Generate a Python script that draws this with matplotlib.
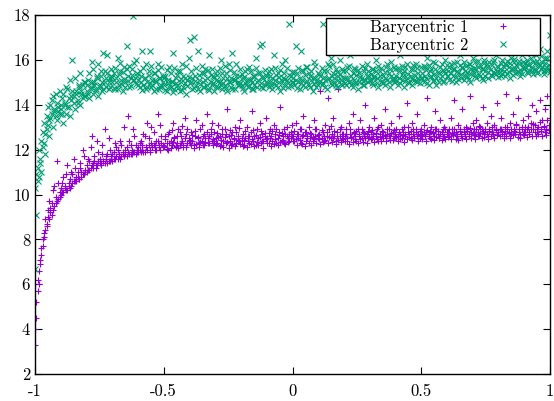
import numpy as np
import matplotlib
matplotlib.use("Agg")
import matplotlib.pyplot as plt
from matplotlib.patches import Rectangle

# ---- data ----
# two sample passes per series on the same x grid
bary1_a = [
    3.3, 4.5, 5.7, 6.0, 6.9, 7.3, 7.7, 8.1, 8.4, 8.7, 9.3, 8.9, 9.2, 9.6, 9.3, 10.4, 9.6, 11.5, 9.8, 10.1,
    10.0, 10.5, 10.1, 10.3, 10.9, 10.2, 10.4, 10.3, 11.0, 10.5, 10.6, 11.2, 10.6, 10.8, 10.7, 11.4, 10.8, 12.0, 10.9, 11.1,
    11.0, 11.6, 11.1, 11.2, 12.6, 11.2, 11.5, 11.3, 11.3, 11.9, 11.4, 11.3, 12.2, 11.5, 11.4, 11.7, 11.4, 12.5, 11.5, 11.6,
    11.5, 11.9, 11.6, 12.1, 11.6, 11.7, 12.4, 11.7, 11.8, 11.7, 12.0, 11.7, 13.5, 11.8, 12.2, 11.8, 11.9, 12.6, 11.8, 12.0,
    11.9, 12.3, 11.9, 12.0, 12.7, 11.9, 12.1, 12.0, 12.5, 11.9, 13.0, 12.1, 12.2, 12.0, 12.4, 13.6, 12.1, 12.0, 12.6, 12.2,
    12.1, 12.6, 12.3, 12.0, 12.8, 12.4, 12.2, 13.2, 12.5, 12.1, 12.3, 12.9, 12.2, 12.6, 12.4, 12.1, 13.4, 12.7, 12.3, 12.5,
    12.3, 12.8, 12.4, 12.2, 12.6, 13.3, 12.5, 12.3, 12.9, 12.4, 12.2, 12.7, 12.5, 13.6, 12.3, 12.6, 12.9, 12.4, 12.2, 12.8,
    12.5, 12.3, 13.1, 12.6, 12.2, 12.7, 12.4, 12.9, 12.3, 13.8, 12.6, 12.4, 12.2, 12.8, 12.5, 13.0, 12.3, 12.6, 12.4, 13.3,
    12.4, 12.7, 12.2, 12.5, 13.0, 12.6, 12.3, 12.8, 13.7, 12.4, 12.6, 12.2, 12.9, 12.5, 13.2, 12.3, 12.7, 12.4, 12.6, 13.4,
    12.5, 12.3, 12.9, 12.6, 12.4, 13.1, 12.7, 12.3, 12.5, 12.8, 13.9, 12.4, 12.6, 12.3, 12.7, 13.0, 12.5, 12.4, 12.8, 12.6,
    12.6, 12.4, 13.2, 12.7, 12.5, 12.9, 12.3, 12.6, 13.5, 12.8, 12.4, 12.6, 13.0, 12.5, 12.7, 12.4, 13.3, 12.6, 12.9, 12.5,
    12.7, 14.6, 12.5, 12.8, 12.4, 13.1, 12.6, 14.3, 12.9, 12.5, 12.7, 13.4, 12.6, 12.4, 12.8, 14.7, 12.6, 13.0, 12.5, 12.7,
    12.6, 12.9, 12.4, 13.2, 12.7, 12.5, 13.6, 12.8, 12.6, 12.4, 12.9, 12.7, 13.3, 12.5, 12.8, 12.6, 14.0, 12.7, 12.5, 13.0,
    12.8, 12.5, 12.7, 13.4, 12.6, 12.9, 12.4, 12.7, 13.1, 12.6, 12.8, 13.8, 12.5, 12.7, 12.9, 12.6, 13.2, 12.8, 12.5, 12.7,
    12.9, 12.6, 13.5, 12.7, 12.5, 12.8, 13.0, 12.6, 14.1, 12.8, 12.7, 12.5, 13.2, 12.9, 12.6, 12.8, 13.6, 12.7, 12.5, 12.9,
    12.7, 13.1, 12.6, 12.8, 14.3, 12.7, 12.5, 13.0, 12.8, 12.6, 13.7, 12.9, 12.7, 12.5, 13.3, 12.8, 12.6, 13.0, 12.9, 12.7,
    12.8, 12.6, 13.4, 12.9, 12.7, 14.2, 12.8, 12.6, 13.1, 12.9, 12.7, 13.8, 12.8, 12.6, 13.0, 12.9, 12.7, 14.4, 12.8, 13.2,
    12.9, 12.7, 13.3, 12.8, 12.6, 13.0, 12.9, 13.9, 12.7, 12.8, 13.2, 12.6, 12.9, 13.5, 12.8, 12.7, 13.1, 12.9, 14.1, 12.8,
    12.9, 13.4, 12.8, 12.7, 13.0, 14.5, 12.9, 12.8, 13.2, 12.7, 13.6, 12.9, 12.8, 13.1, 14.3, 12.9, 12.7, 13.0, 13.3, 12.8,
    13.0, 12.9, 13.5, 12.8, 13.2, 14.0, 12.9, 13.1, 13.7, 12.8, 13.0, 14.2, 12.9, 13.3, 13.0, 13.8, 12.9, 14.4, 13.1, 13.4,
]
bary1_b = [
    4.0, 5.2, 6.2, 6.6, 7.1, 7.6, 8.0, 8.3, 8.9, 8.6, 9.0, 9.7, 9.4, 9.1, 10.2, 9.5, 9.9, 9.7, 10.5, 9.9,
    10.3, 10.1, 10.8, 10.4, 10.2, 11.3, 10.5, 10.7, 10.4, 10.9, 11.6, 10.6, 10.8, 11.0, 10.7, 11.2, 11.0, 10.9, 11.7, 11.0,
    11.3, 11.1, 11.5, 12.1, 11.3, 11.4, 11.7, 11.2, 12.4, 11.5, 11.6, 11.4, 11.8, 11.5, 12.9, 11.6, 11.8, 11.5, 12.0, 11.7,
    11.8, 11.6, 12.3, 11.7, 12.0, 11.8, 11.6, 12.2, 11.9, 13.0, 11.8, 12.1, 11.9, 12.4, 11.8, 12.0, 12.9, 11.9, 12.2, 11.9,
    12.1, 12.0, 12.4, 12.2, 11.9, 12.6, 12.1, 13.2, 12.2, 12.0, 12.3, 12.1, 12.8, 12.2, 12.0, 12.4, 12.2, 13.1, 12.3, 12.1,
    12.14, 12.47, 12.03, 12.71, 12.28, 12.09, 12.88, 12.35, 12.56, 12.17, 12.62, 12.06, 12.79, 12.31, 13.05, 12.22, 12.51, 12.12, 12.93, 12.38,
    12.42, 12.19, 12.66, 12.08, 12.84, 12.25, 12.57, 12.13, 12.36, 13.08, 12.61, 12.21, 12.33, 12.77, 12.52, 12.29, 12.68, 13.17, 12.46, 12.39,
    12.27, 12.74, 12.55, 12.16, 12.43, 12.91, 12.12, 12.58, 12.69, 12.34, 12.07, 12.86, 12.63, 12.24, 12.49, 12.15, 12.78, 12.41, 12.97, 12.26,
    12.54, 12.18, 12.44, 12.81, 12.11, 12.37, 12.59, 12.23, 12.48, 12.89, 12.14, 12.67, 12.32, 12.19, 12.58, 12.83, 12.38, 12.09, 12.72, 12.46,
    12.28, 12.73, 12.51, 12.17, 12.84, 12.26, 12.47, 12.92, 12.21, 12.64, 12.33, 12.76, 12.45, 12.94, 12.24, 12.61, 12.36, 12.71, 12.53, 13.08,
    12.37, 12.82, 12.49, 12.19, 12.68, 12.44, 12.91, 12.27, 12.63, 12.18, 12.79, 12.52, 12.31, 12.74, 12.22, 12.57, 12.46, 12.93, 12.29, 12.66,
    12.48, 12.26, 12.87, 12.34, 12.62, 12.43, 12.78, 12.29, 12.57, 13.04, 12.36, 12.51, 12.83, 12.24, 12.59, 12.45, 12.92, 12.32, 12.71, 12.47,
    12.38, 12.69, 12.52, 12.27, 12.91, 12.58, 12.33, 12.74, 12.46, 12.83, 12.29, 12.61, 12.49, 12.94, 12.36, 12.72, 12.54, 12.31, 12.81, 12.57,
    12.46, 12.88, 12.61, 12.34, 12.73, 12.48, 13.02, 12.57, 12.39, 12.82, 12.51, 12.64, 12.37, 12.93, 12.59, 12.44, 12.76, 12.41, 12.89, 12.62,
    12.56, 12.38, 12.79, 12.47, 12.92, 12.63, 12.36, 12.71, 12.49, 13.03, 12.58, 12.84, 12.42, 12.68, 12.53, 12.91, 12.61, 12.39, 12.82, 12.64,
    12.48, 12.77, 12.59, 12.37, 12.89, 12.62, 12.81, 12.46, 12.73, 12.41, 12.94, 12.57, 12.83, 12.52, 12.69, 12.43, 12.92, 12.61, 12.47, 12.79,
    12.58, 12.91, 12.49, 12.72, 12.63, 12.94, 12.47, 12.68, 12.42, 12.84, 12.61, 12.53, 12.93, 12.71, 12.48, 12.82, 12.59, 12.96, 12.51, 12.74,
    12.67, 12.48, 12.92, 12.61, 13.04, 12.73, 12.52, 12.83, 12.57, 12.94, 12.69, 12.49, 12.81, 12.62, 13.01, 12.71, 12.54, 12.89, 12.63, 12.78,
    12.61, 12.93, 12.68, 12.51, 12.84, 12.59, 13.03, 12.72, 12.53, 12.91, 12.64, 12.82, 12.69, 13.12, 12.58, 12.79, 12.52, 12.94, 12.71, 12.63,
    12.79, 12.58, 13.02, 12.69, 12.91, 12.62, 13.13, 12.77, 12.59, 12.93, 12.71, 13.21, 12.82, 12.61, 13.04, 12.78, 12.67, 13.32, 12.88, 12.76,
]

bary2_a = [
    6.7, 9.1, 10.6, 10.8, 11.4, 11.0, 12.1, 12.3, 11.8, 12.9, 13.1, 12.6, 13.4, 14.2, 13.0, 13.7, 14.5, 13.3, 13.9, 13.6,
    13.8, 14.3, 13.2, 14.0, 13.6, 14.7, 13.9, 13.5, 14.4, 16.0, 14.1, 13.8, 14.6, 14.2, 14.9, 14.0, 14.5, 14.3, 15.0, 14.4,
    14.6, 15.1, 14.3, 14.8, 15.9, 14.5, 15.0, 14.7, 15.3, 14.4, 14.9, 15.5, 14.6, 16.3, 15.0, 14.8, 15.4, 14.7, 15.2, 15.6,
    15.0, 15.4, 14.7, 15.2, 16.1, 14.9, 15.5, 15.1, 14.6, 15.7, 15.0, 16.6, 15.3, 14.8, 15.2, 15.6, 17.95, 15.1, 16.0, 15.4,
    15.1, 14.8, 15.3, 16.4, 14.9, 15.2, 14.7, 15.0, 15.5, 16.4, 14.8, 15.1, 14.6, 15.4, 15.0, 15.8, 14.7, 15.2, 14.9, 15.3,
    14.9, 15.3, 14.6, 15.1, 15.7, 14.8, 15.0, 16.3, 14.7, 15.2, 14.9, 15.5, 14.6, 15.0, 15.8, 14.8, 15.2, 14.5, 15.1, 16.1,
    16.9, 15.0, 14.7, 17.0, 15.3, 14.9, 16.4, 15.1, 14.6, 15.4, 15.0, 14.8, 15.6, 15.2, 14.7, 16.2, 15.0, 14.9, 15.3, 14.6,
    15.1, 15.5, 14.8, 15.0, 16.0, 14.7, 15.2, 14.9, 15.4, 14.6, 15.8, 15.0, 14.8, 16.3, 15.1, 14.7, 15.3, 15.0, 14.9, 15.6,
    14.9, 15.2, 14.6, 15.5, 15.0, 14.8, 15.7, 15.1, 14.7, 15.3, 14.9, 16.1, 15.0, 15.4, 16.6, 14.8, 16.7, 15.2, 14.9, 15.0,
    15.3, 14.8, 15.0, 15.6, 14.7, 16.2, 15.1, 14.9, 15.4, 15.0, 14.6, 15.8, 15.2, 14.9, 16.0, 15.1, 14.8, 17.6, 15.3, 15.0,
    15.2, 14.9, 16.6, 15.4, 15.0, 14.7, 16.4, 15.1, 15.5, 14.8, 15.0, 15.7, 14.9, 15.3, 15.1, 14.6, 15.9, 15.2, 14.8, 15.4,
    15.0, 15.3, 14.9, 17.6, 15.5, 15.1, 14.7, 15.8, 15.2, 16.1, 14.9, 15.4, 15.0, 15.6, 14.8, 15.3, 16.0, 15.1, 14.9, 15.5,
    15.2, 14.9, 15.7, 15.0, 16.2, 15.3, 14.8, 15.1, 15.6, 15.0, 14.7, 15.4, 16.4, 15.2, 14.9, 15.5, 15.1, 15.8, 15.0, 15.3,
    15.1, 15.6, 14.9, 15.3, 16.0, 15.2, 14.8, 15.5, 15.0, 16.5, 15.3, 14.9, 15.7, 15.1, 15.4, 14.8, 15.9, 15.2, 15.0, 15.6,
    15.3, 14.9, 15.5, 16.2, 15.1, 15.4, 14.8, 15.7, 15.2, 15.0, 16.4, 15.3, 14.9, 15.6, 15.1, 15.8, 15.0, 15.4, 16.6, 15.2,
    15.4, 15.0, 15.7, 15.2, 16.1, 14.9, 15.5, 15.3, 15.9, 15.1, 15.6, 14.9, 16.3, 15.4, 15.2, 15.8, 15.0, 15.5, 16.0, 15.3,
    15.5, 15.1, 15.8, 16.4, 15.3, 15.6, 15.0, 15.9, 15.4, 16.2, 15.2, 15.7, 15.1, 15.5, 16.6, 15.3, 15.8, 15.0, 15.6, 16.1,
    15.4, 15.9, 15.2, 15.7, 16.3, 15.3, 15.6, 15.1, 16.0, 15.5, 15.8, 15.2, 16.5, 15.6, 15.3, 15.9, 15.4, 16.2, 15.5, 15.7,
    15.6, 15.3, 16.0, 15.5, 15.8, 16.4, 15.4, 15.7, 15.2, 16.1, 15.6, 15.9, 15.4, 16.6, 15.5, 15.8, 15.3, 16.2, 15.7, 15.6,
    15.7, 16.0, 15.4, 15.8, 16.3, 15.5, 15.9, 15.6, 16.2, 15.4, 15.8, 16.5, 15.6, 15.9, 15.5, 16.1, 15.7, 16.4, 15.6, 17.1,
]
bary2_b = [
    10.3, 10.9, 11.2, 12.0, 11.6, 12.4, 12.8, 13.2, 12.7, 13.5, 13.9, 13.3, 14.0, 13.6, 14.4, 13.8, 13.5, 14.1, 13.7, 14.6,
    14.0, 13.6, 14.5, 14.1, 14.8, 13.9, 14.3, 15.1, 14.2, 14.6, 14.4, 15.2, 14.5, 14.1, 14.8, 15.4, 14.6, 14.9, 14.4, 15.0,
    14.9, 14.5, 15.4, 14.7, 15.0, 15.6, 14.9, 14.6, 15.2, 15.8, 14.8, 15.3, 15.0, 14.7, 15.5, 15.2, 16.2, 15.0, 14.8, 15.3,
    15.23, 14.76, 15.64, 15.02, 14.68, 15.37, 15.84, 14.91, 15.46, 15.13, 14.79, 15.58, 15.04, 15.73, 14.83, 15.31, 15.09, 15.86, 14.94, 15.26,
    14.87, 15.52, 15.01, 14.66, 15.63, 15.18, 15.82, 14.77, 15.34, 14.98, 15.71, 14.89, 15.43, 15.12, 14.69, 15.54, 15.21, 14.81, 15.67, 15.03,
    15.19, 14.64, 15.53, 14.97, 14.78, 15.42, 15.08, 14.59, 15.62, 14.96, 15.33, 14.76, 15.51, 15.14, 14.67, 15.29, 14.99, 15.74, 14.82, 15.22,
    14.97, 15.52, 15.18, 14.73, 15.04, 15.64, 14.68, 15.31, 14.94, 15.72, 14.79, 15.43, 15.09, 14.86, 15.56, 14.66, 15.34, 15.61, 14.98, 15.24,
    14.77, 15.32, 15.07, 15.63, 14.89, 15.41, 14.96, 15.74, 14.74, 15.21, 15.03, 15.53, 15.17, 14.69, 15.44, 15.12, 15.82, 14.87, 15.28, 14.99,
    15.38, 14.76, 15.23, 14.97, 15.61, 15.16, 14.84, 15.52, 15.02, 14.68, 15.29, 15.64, 14.79, 15.11, 15.42, 14.96, 15.24, 14.73, 15.54, 15.31,
    14.98, 15.51, 15.27, 14.86, 15.19, 14.94, 15.63, 15.32, 14.77, 15.22, 15.53, 15.07, 14.74, 15.41, 15.13, 15.66, 14.96, 15.34, 14.82, 15.48,
    15.03, 15.44, 15.12, 14.76, 15.62, 15.21, 14.97, 15.53, 14.87, 15.33, 15.67, 15.08, 15.41, 14.79, 15.52, 15.17, 14.93, 15.72, 15.06, 14.88,
    15.37, 15.06, 15.63, 14.96, 15.23, 14.78, 15.51, 15.14, 15.74, 14.97, 15.28, 15.81, 15.18, 14.86, 15.47, 15.09, 15.39, 14.94, 15.61, 15.19,
    14.98, 15.52, 15.17, 15.71, 15.06, 14.87, 15.43, 15.62, 14.96, 15.31, 15.54, 15.01, 15.22, 15.73, 15.08, 14.89, 15.64, 15.27, 15.49, 15.12,
    15.38, 14.97, 15.61, 15.18, 15.52, 14.99, 15.72, 15.29, 15.63, 15.07, 14.96, 15.47, 15.21, 15.83, 15.02, 15.58, 15.26, 15.11, 15.69, 15.16,
    15.08, 15.62, 15.19, 14.98, 15.73, 15.28, 15.51, 15.06, 15.82, 15.37, 14.97, 15.59, 15.16, 15.78, 15.31, 15.04, 15.64, 15.21, 14.99, 15.68,
    15.17, 15.71, 15.26, 15.53, 14.98, 15.79, 15.22, 15.61, 15.07, 15.38, 15.88, 15.19, 15.48, 15.01, 15.69, 15.29, 15.57, 15.08, 15.42, 15.76,
    15.27, 15.68, 15.41, 15.06, 15.58, 15.87, 15.24, 15.49, 15.16, 15.79, 15.36, 15.62, 15.91, 15.28, 15.72, 15.47, 15.13, 15.81, 15.38, 15.57,
    15.66, 15.27, 15.59, 15.96, 15.36, 15.77, 15.18, 15.61, 15.87, 15.26, 15.68, 15.46, 15.92, 15.31, 15.79, 15.48, 15.98, 15.37, 15.71, 15.24,
    15.46, 15.88, 15.37, 15.69, 15.26, 15.78, 15.97, 15.47, 15.86, 15.58, 15.34, 16.06, 15.61, 15.77, 15.44, 15.96, 15.56, 15.36, 15.89, 15.66,
    15.87, 15.46, 15.76, 15.57, 16.08, 15.66, 15.36, 15.88, 15.54, 15.97, 15.47, 15.79, 16.16, 15.68, 15.38, 15.86, 15.57, 16.07, 15.76, 15.48,
]

x_start, x_end = -1.0, 1.0
x_grid = np.linspace(x_start, x_end, len(bary1_a))

labels = ["Barycentric 1", "Barycentric 2"]
colors = ["#9400D3", "#009E73"]
xticks = [-1, -0.5, 0, 0.5, 1]
xticklabels = ["-1", "-0.5", "0", "0.5", "1"]
yticks = [2, 4, 6, 8, 10, 12, 14, 16, 18]

plt.rcParams["font.family"] = ["cmr10", "DejaVu Serif"]
plt.rcParams["axes.unicode_minus"] = False
plt.rcParams["mathtext.fontset"] = "cm"

W, H = 554, 401
fig = plt.figure(figsize=(W / 100, H / 100), dpi=100)
ax = fig.add_axes([35 / W, 27 / H, 515 / W, 359 / H])

xx = np.concatenate([x_grid, x_grid])
y1 = np.concatenate([bary1_a, bary1_b])
y2 = np.concatenate([bary2_a, bary2_b])

ax.plot(xx, y1, linestyle="none", marker="+", color=colors[0],
        markersize=4.6, markeredgewidth=0.8, label=labels[0])
ax.plot(xx, y2, linestyle="none", marker="x", color=colors[1],
        markersize=3.8, markeredgewidth=0.8, label=labels[1])

ax.set_xlim(-1, 1)
ax.set_ylim(2, 18)
ax.set_xticks(xticks)
ax.set_xticklabels(xticklabels)
ax.set_yticks(yticks)
ax.set_yticklabels([str(v) for v in yticks])
ax.tick_params(direction="in", top=True, right=True, length=5, width=0.8,
               labelsize=12, colors="black")
ax.tick_params(axis="x", pad=7)
for s in ax.spines.values():
    s.set_linewidth(1.0)

# legend box (opaque, square corners), text first then marker
box = Rectangle((326 / W, 1 - 55 / H), (540 - 326) / W, (55 - 18) / H,
                transform=fig.transFigure, facecolor="white",
                edgecolor="black", linewidth=1.0, zorder=10)
fig.add_artist(box)
h, l = ax.get_legend_handles_labels()
leg = fig.legend(h, l, loc="upper left", bbox_to_anchor=(370 / W, 1 - 20 / H),
                 markerfirst=False, fontsize=12, frameon=False,
                 borderpad=0, labelspacing=0.14, handlelength=1.0,
                 handletextpad=1.6, borderaxespad=0)
leg.set_zorder(11)

fig.savefig("out.png", dpi=100)
